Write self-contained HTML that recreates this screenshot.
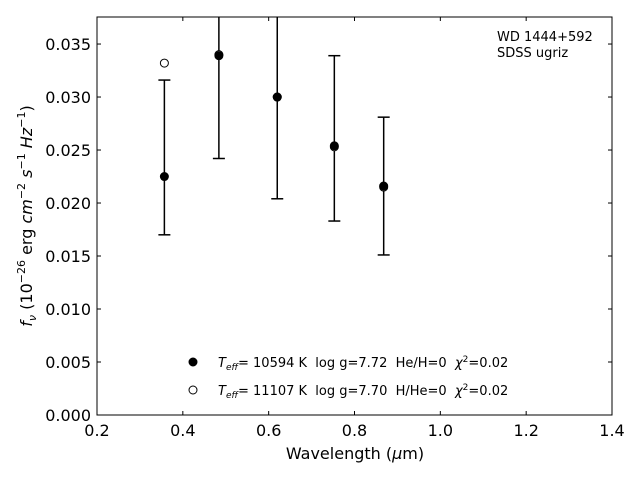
<!DOCTYPE html>
<html><head><meta charset="utf-8"><style>
body{margin:0;background:#fff;}
svg{display:block;font-family:"DejaVu Sans","Liberation Sans",sans-serif;}
text{white-space:pre;}
</style></head><body>
<svg id="chart" width="640" height="480" viewBox="0 0 640 480"></svg>
<script>
const wavelengths=[0.357,0.484,0.620,0.753,0.868];
const observedFlux=[0.0243,0.0340,0.0300,0.0261,0.0216];
const fluxError=[0.0073,0.0098,0.0096,0.0078,0.0065];
const modelHe=[0.0225,0.0339,0.0300,0.0254,0.0216];
const modelH=[0.0332,0.0340,0.0300,0.0253,0.0215];
const xTicks=[0.2,0.4,0.6,0.8,1.0,1.2,1.4];
const yTicks=[0.000,0.005,0.010,0.015,0.020,0.025,0.030,0.035];
const L=97,R=612,T=17,B=415,xmin=0.2,xmax=1.4,ymin=0,ymax=0.03755;
const sx=v=>L+(v-xmin)/(xmax-xmin)*(R-L);
const sy=v=>B-(v-ymin)/(ymax-ymin)*(B-T);
const svg=document.getElementById('chart');
const NS='http://www.w3.org/2000/svg';
function mk(tag,attrs,parent){const e=document.createElementNS(NS,tag);for(const k in attrs)e.setAttribute(k,attrs[k]);(parent||svg).appendChild(e);return e;}
const clip=mk('clipPath',{id:'pc'});mk('rect',{x:L,y:T,width:R-L,height:B-T},clip);
xTicks.forEach(t=>{const x=sx(t);
 const a=mk('line',{x1:x,x2:x,y1:B,y2:B-4,stroke:'#000'});
 mk('line',{x1:x,x2:x,y1:T,y2:T+4,stroke:'#000'});
 const tx=mk('text',{x:x,y:B+21,'text-anchor':'middle','font-size':16});tx.textContent=t.toFixed(1);
 });
yTicks.forEach(t=>{const y=sy(t);
 const a=mk('line',{x1:L,x2:L+4,y1:y,y2:y,stroke:'#000'});
 mk('line',{x1:R,x2:R-4,y1:y,y2:y,stroke:'#000'});
 const tx=mk('text',{x:L-6,y:y+6,'text-anchor':'end','font-size':16});tx.textContent=t.toFixed(3);
 });
const g=mk('g',{'clip-path':'url(#pc)'});
wavelengths.forEach((w,i)=>{const x=sx(w),y1=sy(observedFlux[i]+fluxError[i]),y2=sy(observedFlux[i]-fluxError[i]);
 const eb=mk('g',{stroke:'#000','stroke-width':1.5},g);
 mk('line',{x1:x,x2:x,y1:y1,y2:y2},eb);mk('line',{x1:x-6,x2:x+6,y1:y1,y2:y1},eb);mk('line',{x1:x-6,x2:x+6,y1:y2,y2:y2},eb);});
wavelengths.forEach((w,i)=>{const c=mk('circle',{cx:sx(w),cy:sy(modelH[i]),r:4,fill:'#fff',stroke:'#000'},g);
 });
wavelengths.forEach((w,i)=>{const c=mk('circle',{cx:sx(w),cy:sy(modelHe[i]),r:4,fill:'#000',stroke:'#000'},g);
 });
const fr=mk('rect',{x:L,y:T,width:R-L,height:B-T,fill:'none',stroke:'#000'});
</script>
<svg style="position:absolute;left:0;top:0" width="640" height="480" font-family="DejaVu Sans, Liberation Sans, sans-serif">
<text x="355" y="459" text-anchor="middle" font-size="16">Wavelength (<tspan font-style="italic">μ</tspan>m)</text>
<text transform="translate(32,216) rotate(-90)" text-anchor="middle" font-size="16"><tspan font-style="italic">f</tspan><tspan font-style="italic" font-size="11" dy="4">ν</tspan><tspan dy="-4"> (10</tspan><tspan font-size="11" dy="-7">−26</tspan><tspan dy="7"> erg </tspan><tspan font-style="italic">cm</tspan><tspan font-size="11" dy="-7">−2</tspan><tspan dy="7"> </tspan><tspan font-style="italic">s</tspan><tspan font-size="11" dy="-7">−1</tspan><tspan dy="7"> </tspan><tspan font-style="italic">Hz</tspan><tspan font-size="11" dy="-7">−1</tspan><tspan dy="7">)</tspan></text>
<text x="497" y="41" font-size="13">WD 1444+592</text>
<text x="497" y="57" font-size="13">SDSS ugriz</text>
<g font-size="13">
<circle cx="193" cy="362" r="4" fill="#000" stroke="#000"/>
<text x="218" y="367"><tspan font-style="italic">T</tspan><tspan font-style="italic" font-size="9" dy="3">eff</tspan><tspan dy="-3">= 10594 K  log g=7.72  He/H=0  </tspan><tspan font-style="italic">χ</tspan><tspan font-size="9" dy="-5">2</tspan><tspan dy="5">=0.02</tspan></text>
<circle cx="193" cy="390" r="4" fill="#fff" stroke="#000"/>
<text x="218" y="395"><tspan font-style="italic">T</tspan><tspan font-style="italic" font-size="9" dy="3">eff</tspan><tspan dy="-3">= 11107 K  log g=7.70  H/He=0  </tspan><tspan font-style="italic">χ</tspan><tspan font-size="9" dy="-5">2</tspan><tspan dy="5">=0.02</tspan></text>
</g>
</svg>
</body></html>
